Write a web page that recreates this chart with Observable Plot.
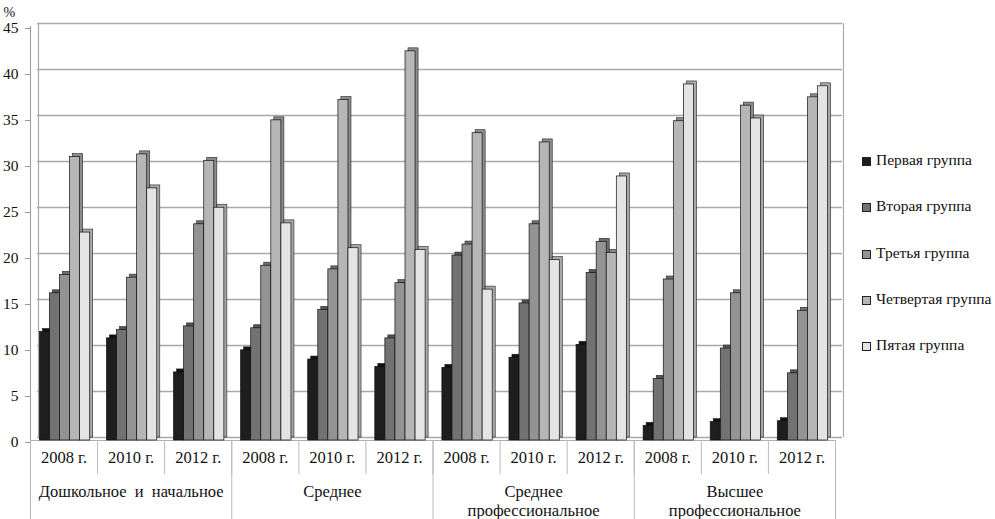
<!DOCTYPE html>
<html><head><meta charset="utf-8">
<script src="https://cdn.jsdelivr.net/npm/d3@7"></script>
<script src="https://cdn.jsdelivr.net/npm/@observablehq/plot@0.6"></script>
<style>
body{margin:0;background:#fff;font-family:"Liberation Serif","DejaVu Serif",serif;}
#wrap{position:relative;width:995px;height:519px;overflow:hidden;}
.legend{position:absolute;left:862px;top:151px;font-size:15.5px;color:#111;font-family:"Liberation Serif","DejaVu Serif",serif;}
.legend div{height:46.3px;display:flex;align-items:flex-start;white-space:nowrap;}
.legend span.sw{display:inline-block;width:7px;height:7px;border:1px solid #222;margin-right:5px;margin-top:6px;}
</style></head><body><div id="wrap"></div>
<script>
const groups = ["Дошкольное  и  начальное", "Среднее", "Среднее\nпрофессиональное", "Высшее\nпрофессиональное"];
const years = ["2008 г.", "2010 г.", "2012 г."];
const seriesNames = ["Первая группа", "Вторая группа", "Третья группа", "Четвертая группа", "Пятая группа"];
const colors = ["#1e1e1e", "#727272", "#939393", "#b6b6b6", "#e4e4e4"];
const sideColors = ["#111111", "#555555", "#6e6e6e", "#8c8c8c", "#a8a8a8"];
const yTicks = [0, 5, 10, 15, 20, 25, 30, 35, 40, 45];

const first  = [11.8, 11.1, 7.4,  9.8, 8.8, 8.0,  7.9, 9.0, 10.4,  1.6, 2.0, 2.1];
const second = [16.0, 12.0, 12.4, 12.2, 14.2, 11.1, 20.1, 14.9, 18.2, 6.7, 10.0, 7.3];
const third  = [18.0, 17.7, 23.5, 19.0, 18.6, 17.1, 21.3, 23.5, 21.6, 17.5, 16.0, 14.1];
const fourth = [30.8, 31.1, 30.4, 34.8, 37.0, 42.3, 33.4, 32.4, 20.4, 34.7, 36.4, 37.3];
const fifth  = [22.6, 27.4, 25.3, 23.6, 20.9, 20.7, 16.4, 19.6, 28.7, 38.7, 35.0, 38.5];
const seriesValues = [first, second, third, fourth, fifth];

const rows = [];
for (let slot = 0; slot < 12; slot++) {
  seriesValues.forEach((vals, s) => rows.push({slot, s, series: seriesNames[s], value: vals[slot]}));
}
const slots = d3.range(12).map(i => ({c: i + 0.5, label: years[i % 3]}));
const groupRows = groups.map((g, i) => ({c: i * 3 + 1.5, label: g}));

const bw = 0.15;
const bx1 = d => d.slot + 0.14 + d.s * bw;
const bx2 = d => bx1(d) + bw;
const font = '"Liberation Serif","DejaVu Serif",serif';

const plot = Plot.plot({
  width: 995, height: 519,
  marginLeft: 30, marginRight: 160, marginTop: 26, marginBottom: 79,
  x: {domain: [0, 12], axis: null, label: null},
  y: {domain: [0, 45], axis: null, label: null},
  color: {domain: seriesNames, range: colors},
  style: {fontFamily: font, fontSize: "15px", background: "#fff", color: "#111"},
  marks: [
    Plot.ruleY(yTicks, {x1: 0, x2: 12, dx: 7, dy: -3, stroke: "#a9a9a9", strokeWidth: 1.6}),
    Plot.ruleX([0, 12], {y1: 0, y2: 45, dx: 8, dy: -3, stroke: "#a9a9a9", strokeWidth: 1.2}),
    Plot.ruleY([0], {x1: 0, x2: 12, stroke: "#b0b0b0", strokeWidth: 1.2}),
    Plot.ruleX([0], {y1: 0, y2: 45, stroke: "#999", strokeWidth: 1}),
    Plot.axisY({ticks: yTicks, tickSize: 5, tickPadding: 7, label: null, stroke: "#999", dy: 2, fontSize: 15.5, fontFamily: font}),
    Plot.axisX({ticks: d3.range(13), tickSize: 34, tickFormat: () => "", label: null, stroke: "#bbb"}),
    Plot.axisX({ticks: [0, 3, 6, 9, 12], tickSize: 79, tickFormat: () => "", label: null, stroke: "#bbb"}),
    Plot.text(slots, {x: "c", text: "label", frameAnchor: "bottom", dy: 22, fontSize: 16.5, fill: "#111", fontFamily: font}),
    Plot.text(groupRows, {x: "c", text: "label", frameAnchor: "bottom", lineAnchor: "top", dy: 42, fontSize: 16.5, lineHeight: 1.2, fill: "#111", fontFamily: font}),
    Plot.text(["%"], {frameAnchor: "top-left", dx: -27, dy: -19, textAnchor: "start", fontSize: 14, fontFamily: font}),
    Plot.rect(rows, {x1: bx1, x2: bx2, y1: 0, y2: "value", dx: 3, dy: -3, fill: d => sideColors[d.s], stroke: "#222", strokeWidth: 0.6}),
    Plot.rect(rows, {x1: bx1, x2: bx2, y1: 0, y2: "value", fill: "series", stroke: "#111", strokeWidth: 0.7})
  ]
});
const wrap = document.getElementById("wrap");
wrap.appendChild(plot);
const leg = document.createElement("div");
leg.className = "legend";
seriesNames.forEach((n, i) => {
  const row = document.createElement("div");
  const sw = document.createElement("span");
  sw.className = "sw"; sw.style.background = colors[i];
  row.appendChild(sw);
  row.appendChild(document.createTextNode(n));
  leg.appendChild(row);
});
wrap.appendChild(leg);
</script></body></html>
